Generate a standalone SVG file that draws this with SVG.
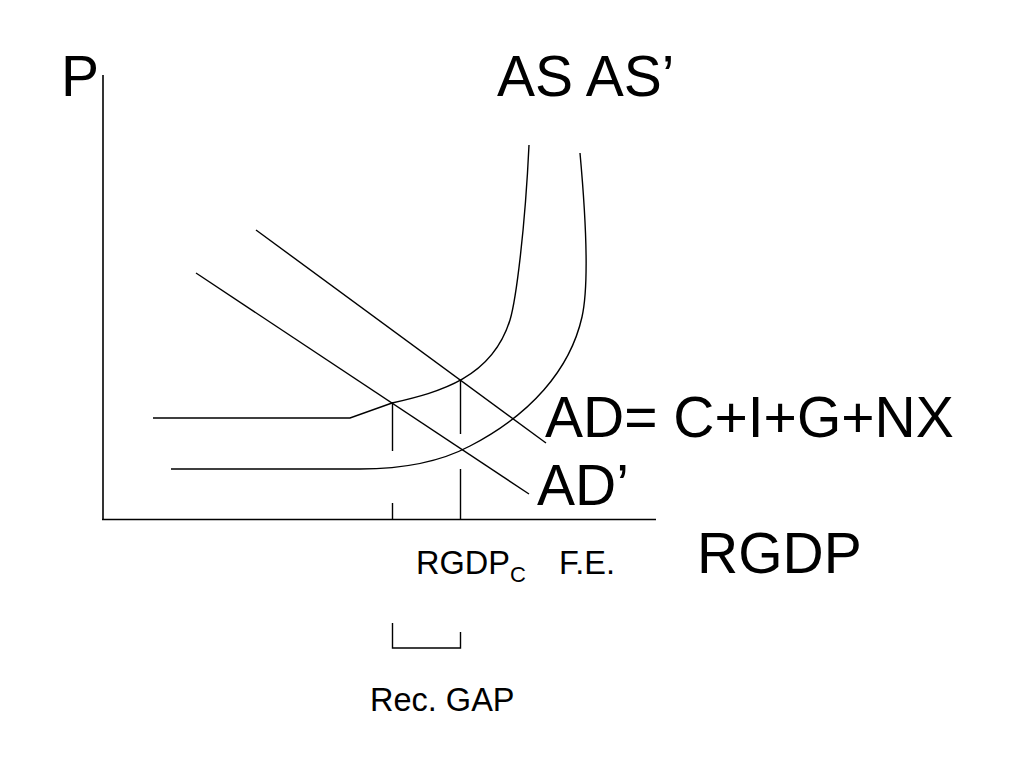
<svg xmlns="http://www.w3.org/2000/svg" width="1024" height="768" viewBox="0 0 1024 768">
<style>
.ln{fill:none;stroke:#000;stroke-width:1.4}
.ax{fill:none;stroke:#000;stroke-width:1.6}
.big{font-family:"Liberation Sans",Arial,sans-serif;font-size:57px;fill:#000}
.sm{font-family:"Liberation Sans",Arial,sans-serif;font-size:32.5px;fill:#000}
.sub{font-family:"Liberation Sans",Arial,sans-serif;font-size:22px;fill:#000}
</style>
<rect width="1024" height="768" fill="#fff"/>
<g id="axes">
<line class="ax" x1="103" y1="75" x2="103" y2="520"/>
<line class="ax" x1="102" y1="519.5" x2="656" y2="519.5"/>
</g>
<g id="curves">
<path id="AS" class="ln" d="M153,418 L350,418 L392,403 C440,392 492,378 510,320 C516,300 525,230 529,145"/>
<path id="AS2" class="ln" d="M171,469 L360,469 C400,469 440,462 470,446 C530,415 570,370 582,317 C588,290 587,230 580,153"/>
<line id="AD" class="ln" x1="256" y1="230" x2="546" y2="443"/>
<line id="AD2" class="ln" x1="196" y1="273" x2="529" y2="494"/>
</g>
<g id="guides">
<line class="ln" x1="392.5" y1="402" x2="392.5" y2="451"/>
<line class="ln" x1="392.5" y1="503" x2="392.5" y2="519"/>
<line class="ln" x1="460.5" y1="380" x2="460.5" y2="434"/>
<line class="ln" x1="460.5" y1="469" x2="460.5" y2="519"/>
<path class="ln" d="M392.5,623 V648 H460.5 V632"/>
</g>
<g id="labels">
<text class="big" x="61" y="96">P</text>
<text class="big" x="497" y="96">AS AS’</text>
<text class="big" x="545" y="437">AD= C+I+G+NX</text>
<text class="big" x="537" y="505">AD’</text>
<text class="big" x="697" y="573">RGDP</text>
<text class="sm" x="416" y="574">RGDP<tspan class="sub" dy="8">C</tspan></text>
<text class="sm" x="559" y="574">F.E.</text>
<text class="sm" x="370" y="711">Rec. GAP</text>
</g>
</svg>
